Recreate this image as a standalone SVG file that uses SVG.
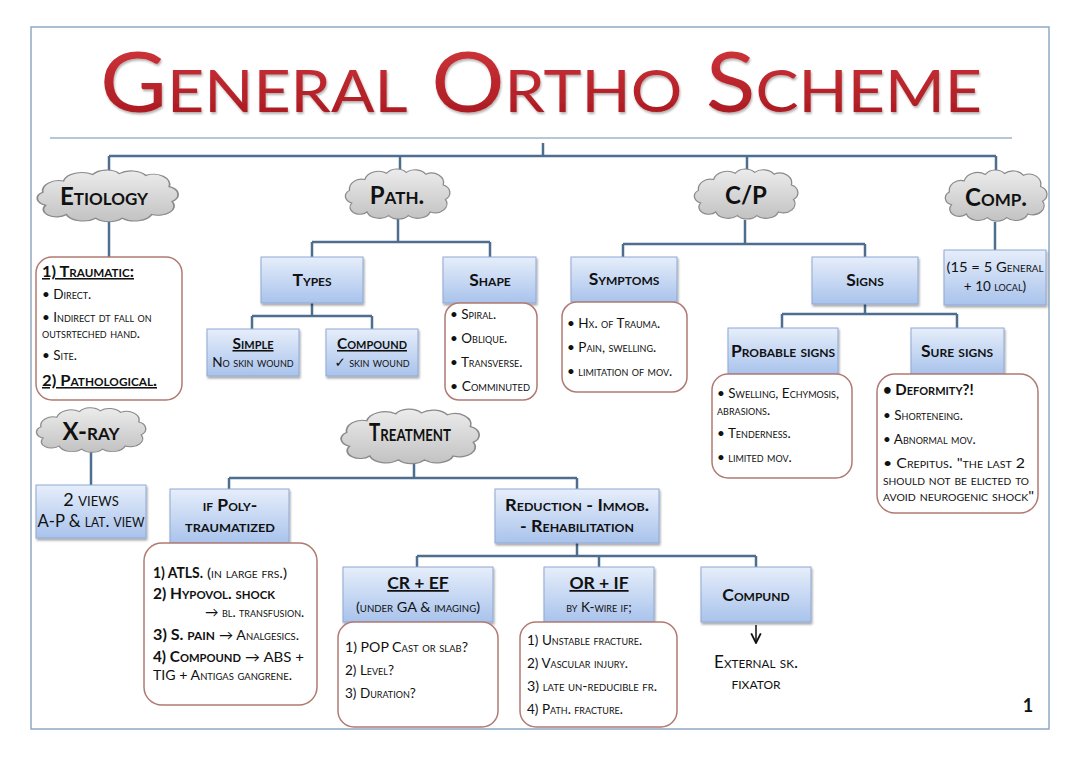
<svg xmlns="http://www.w3.org/2000/svg" width="1080" height="758" viewBox="0 0 1080 758">
<defs>
<linearGradient id="bg" x1="0" y1="0" x2="0" y2="1"><stop offset="0" stop-color="#e6eefa"/><stop offset="1" stop-color="#a9c3ec"/></linearGradient>
<linearGradient id="cg" x1="0" y1="0" x2="0" y2="1"><stop offset="0" stop-color="#ececec"/><stop offset="1" stop-color="#c2c2c2"/></linearGradient>
<linearGradient id="rg" x1="0" y1="0" x2="0" y2="1"><stop offset="0" stop-color="#d63a3f"/><stop offset="1" stop-color="#a3161d"/></linearGradient>
<filter id="sh" x="-10%" y="-10%" width="130%" height="140%"><feDropShadow dx="1" dy="2" stdDeviation="1.3" flood-color="#000" flood-opacity="0.35"/></filter>
<filter id="ts" x="-5%" y="-5%" width="110%" height="120%"><feDropShadow dx="1" dy="2" stdDeviation="1" flood-color="#000" flood-opacity="0.3"/></filter>
<path id="cloud" d="M 8 40 A 9 8 0 0 1 6 26 A 11 11 0 0 1 20 14 A 13 12 0 0 1 40 7 A 11 10 0 0 1 58 6 A 12 11 0 0 1 76 8 A 11 11 0 0 1 92 20 A 9 9 0 0 1 94 36 A 11 10 0 0 1 80 50 A 12 10 0 0 1 60 54 A 11 9 0 0 1 42 54 A 12 10 0 0 1 22 50 A 9 8 0 0 1 8 40 Z"/>
<marker id="ar" viewBox="0 0 10 10" refX="9" refY="5" markerWidth="8" markerHeight="8" orient="auto"><path d="M1 1 L9 5 L1 9" fill="none" stroke="#111" stroke-width="1.5"/></marker>
</defs>
<style>
.ln{fill:none;stroke:#4d6e8f;stroke-width:2.5}
.bx{fill:url(#bg);stroke:#8fa8d4;stroke-width:1;filter:url(#sh)}
.lb{fill:#fff;stroke:#b07a72;stroke-width:1.5}
.cl{fill:url(#cg);stroke:#8a8a8a;stroke-width:1.2;vector-effect:non-scaling-stroke}
text{font-family:Lato,"Open Sans","DejaVu Sans",sans-serif;font-variant:small-caps;fill:#111}
.h{font-weight:bold;font-size:17.5px;text-anchor:middle}
.c{font-weight:bold;font-size:24px;text-anchor:middle}
.t{font-size:13.5px}
.m{text-anchor:middle}
.u{text-decoration:underline}
.b{font-weight:bold}
</style>
<rect x="0" y="0" width="1080" height="758" fill="#fff"/>
<rect x="31" y="27" width="1018" height="702" fill="none" stroke="#8fa9c3" stroke-width="1.5"/>
<g id="title">
<text x="100" y="112" font-size="84" textLength="882" lengthAdjust="spacingAndGlyphs" style="fill:url(#rg);filter:url(#ts)">General Ortho Scheme</text>
<line x1="50" y1="138" x2="1012" y2="138" stroke="#6f8fae" stroke-width="1"/>
</g>
<g id="connectors">
<path class="ln" d="M543 143 V156 M109 156 H996 M109 156 V175 M400 156 V172 M747 156 V172 M996 156 V176"/>
<path class="ln" d="M109 220 V257"/>
<path class="ln" d="M398 218 V242 M312 242 H490 M312 242 V257 M490 242 V257"/>
<path class="ln" d="M312 303 V316 M252 316 H372 M252 316 V329 M372 316 V329"/>
<path class="ln" d="M745 220 V244 M623 244 H865 M623 244 V257 M865 244 V257"/>
<path class="ln" d="M865 304 V314 M782 314 H957 M782 314 V328 M957 314 V328"/>
<path class="ln" d="M995 222 V250"/>
<path class="ln" d="M91 452 V485"/>
<path class="ln" d="M414 464 V478 M229 478 H577 M229 478 V489 M577 478 V489"/>
<path class="ln" d="M577 543 V556 M417 556 H756 M417 556 V567 M599 556 V567 M756 556 V567"/>
<path d="M756 625 V643" fill="none" stroke="#111" stroke-width="1.5" marker-end="url(#ar)"/>
</g>
<g id="etiology">
<use href="#cloud" class="cl" transform="translate(34,168) scale(1.47,0.93)"/>
<text class="c" x="104" y="205">Etiology</text>
</g>
<g id="etiology-list">
<rect class="lb" x="36" y="257" width="146" height="143" rx="16"/>
<text class="b u" x="42" y="277" font-size="15.5" textLength="92" lengthAdjust="spacingAndGlyphs">1) Traumatic:</text>
<text class="t" x="42" y="299">• Direct.</text>
<text class="t" x="42" y="322">• Indirect dt fall on</text>
<text class="t" x="42" y="338">outsrteched hand.</text>
<text class="t" x="42" y="360">• Site.</text>
<text class="b u" x="42" y="386" font-size="15.5" textLength="115" lengthAdjust="spacingAndGlyphs">2) Pathological.</text>
</g>
<g id="path">
<use href="#cloud" class="cl" transform="translate(343,167) scale(1.09,0.9)"/>
<text class="c" x="397" y="204">Path.</text>
</g>
<g id="types">
<rect class="bx" x="261" y="257" width="102" height="46"/>
<text class="h" x="312" y="286" font-size="17">Types</text>
</g>
<g id="shape">
<rect class="bx" x="443" y="257" width="93" height="46"/>
<text class="h" x="490" y="286">Shape</text>
</g>
<g id="simple">
<rect class="bx" x="207" y="329" width="92" height="47"/>
<text class="b u m" x="253" y="349" font-size="15.5">Simple</text>
<text class="t m" x="253" y="367">No skin wound</text>
</g>
<g id="compound">
<rect class="bx" x="326" y="329" width="92" height="47"/>
<text class="b u m" x="372" y="349" font-size="15.5" textLength="70" lengthAdjust="spacingAndGlyphs">Compound</text>
<text class="t m" x="372" y="367">✓ skin wound</text>
</g>
<g id="shape-list">
<rect class="lb" x="445" y="303" width="92" height="97" rx="14"/>
<text class="t" x="450" y="319">• Spiral.</text>
<text class="t" x="450" y="343">• Oblique.</text>
<text class="t" x="450" y="367">• Transverse.</text>
<text class="t" x="450" y="391" textLength="80" lengthAdjust="spacingAndGlyphs">• Comminuted</text>
</g>
<g id="cp">
<use href="#cloud" class="cl" transform="translate(692,167) scale(1.08,0.9)"/>
<text class="c" x="746" y="204">C/P</text>
</g>
<g id="symptoms">
<rect class="bx" x="571" y="257" width="106" height="45"/>
<text class="h" x="624" y="285">Symptoms</text>
</g>
<g id="symptoms-list">
<rect class="lb" x="562" y="302" width="125" height="90" rx="15"/>
<text class="t" x="567" y="328">• Hx. of Trauma.</text>
<text class="t" x="567" y="352">• Pain, swelling.</text>
<text class="t" x="567" y="376">• limitation of mov.</text>
</g>
<g id="signs">
<rect class="bx" x="812" y="257" width="106" height="47"/>
<text class="h" x="865" y="286" font-size="18.5">Signs</text>
</g>
<g id="probable">
<rect class="bx" x="728" y="328" width="110" height="46"/>
<text class="h" x="783" y="357" font-size="15.5">Probable signs</text>
</g>
<g id="probable-list">
<rect class="lb" x="712" y="374" width="140" height="104" rx="16"/>
<text class="t" x="717" y="398">• Swelling, Echymosis,</text>
<text class="t" x="717" y="415">abrasions.</text>
<text class="t" x="717" y="438">• Tenderness.</text>
<text class="t" x="717" y="462">• limited mov.</text>
</g>
<g id="sure">
<rect class="bx" x="911" y="328" width="93" height="46"/>
<text class="h" x="957" y="357" font-size="15.5">Sure signs</text>
</g>
<g id="sure-list">
<rect class="lb" x="877" y="374" width="161" height="139" rx="18"/>
<text class="b" x="883" y="395" font-size="15">• Deformity?!</text>
<text class="t" x="883" y="420" font-size="14">• Shorteneing.</text>
<text class="t" x="883" y="444" font-size="14">• Abnormal mov.</text>
<text class="t" x="883" y="468" font-size="14" textLength="142" lengthAdjust="spacingAndGlyphs">• Crepitus. "the last 2</text>
<text class="t" x="883" y="485" font-size="14" textLength="146" lengthAdjust="spacingAndGlyphs">should not be elicted to</text>
<text class="t" x="883" y="501" font-size="14" textLength="151" lengthAdjust="spacingAndGlyphs">avoid neurogenic shock"</text>
</g>
<g id="comp">
<use href="#cloud" class="cl" transform="translate(943,168) scale(1.06,0.92)"/>
<text class="c" x="996" y="206">Comp.</text>
</g>
<g id="comp-box">
<rect class="bx" x="944" y="250" width="102" height="55"/>
<text class="t m" x="995" y="272" font-size="14.5" textLength="97" lengthAdjust="spacingAndGlyphs">(15 = 5 General</text>
<text class="t m" x="995" y="291" font-size="14.5">+ 10 local)</text>
</g>
<g id="xray">
<use href="#cloud" class="cl" transform="translate(34,406) scale(1.14,0.8)"/>
<text class="c" x="91" y="440" font-size="22">X-ray</text>
</g>
<g id="views">
<rect class="bx" x="36" y="485" width="110" height="53"/>
<text class="m" x="91" y="506" font-size="18">2 views</text>
<text class="m" x="91" y="527" font-size="18" textLength="107" lengthAdjust="spacingAndGlyphs">A-P &amp; lat. view</text>
</g>
<g id="treatment">
<use href="#cloud" class="cl" transform="translate(338,407) scale(1.44,0.98)"/>
<text class="c" x="410" y="441" font-size="16.5" textLength="82" lengthAdjust="spacingAndGlyphs">Treatment</text>
</g>
<g id="poly">
<rect class="bx" x="170" y="489" width="119" height="54"/>
<text class="h" x="230" y="511" font-size="16">if Poly-</text>
<text class="h" x="230" y="532" font-size="16" textLength="90" lengthAdjust="spacingAndGlyphs">traumatized</text>
</g>
<g id="poly-list">
<rect class="lb" x="144" y="543" width="173" height="162" rx="18"/>
<text class="b" x="153" y="578" font-size="15" textLength="50" lengthAdjust="spacingAndGlyphs">1) ATLS.</text>
<text class="t" x="207" y="578" font-size="14.5" textLength="80" lengthAdjust="spacingAndGlyphs">(in large frs.)</text>
<text class="b" x="153" y="599" font-size="15" textLength="122" lengthAdjust="spacingAndGlyphs">2) Hypovol. shock</text>
<text class="t" x="205" y="617" font-size="14">→ bl. transfusion.</text>
<text class="b" x="153" y="640" font-size="15" textLength="62" lengthAdjust="spacingAndGlyphs">3) S. pain</text>
<text class="t" x="219" y="640" font-size="14.5" textLength="80" lengthAdjust="spacingAndGlyphs">→ Analgesics.</text>
<text class="b" x="153" y="662" font-size="15" textLength="88" lengthAdjust="spacingAndGlyphs">4) Compound</text>
<text class="t" x="245" y="662" font-size="14.5" textLength="59" lengthAdjust="spacingAndGlyphs">→ ABS +</text>
<text class="t" x="153" y="680" font-size="14.5" textLength="139" lengthAdjust="spacingAndGlyphs">TIG + Antigas gangrene.</text>
</g>
<g id="reduction">
<rect class="bx" x="495" y="489" width="164" height="54"/>
<text class="h" x="577" y="511" font-size="16.5" textLength="144" lengthAdjust="spacingAndGlyphs">Reduction - Immob.</text>
<text class="h" x="577" y="532" font-size="16.5" textLength="114" lengthAdjust="spacingAndGlyphs">- Rehabilitation</text>
</g>
<g id="cref">
<rect class="bx" x="343" y="567" width="150" height="55"/>
<text class="h u" x="418" y="589">CR + EF</text>
<text class="t m" x="418" y="612" font-size="13.5" textLength="124" lengthAdjust="spacingAndGlyphs">(under GA &amp; imaging)</text>
</g>
<g id="cref-list">
<rect class="lb" x="338" y="622" width="160" height="105" rx="16"/>
<text class="t" x="345" y="652" font-size="14" textLength="123" lengthAdjust="spacingAndGlyphs">1) POP Cast or slab?</text>
<text class="t" x="345" y="675" font-size="14">2) Level?</text>
<text class="t" x="345" y="698" font-size="14">3) Duration?</text>
</g>
<g id="orif">
<rect class="bx" x="544" y="567" width="110" height="55"/>
<text class="h u" x="599" y="589">OR + IF</text>
<text class="t m" x="599" y="612">by K-wire if;</text>
</g>
<g id="orif-list">
<rect class="lb" x="520" y="622" width="157" height="105" rx="16"/>
<text class="t" x="527" y="645" font-size="14">1) Unstable fracture.</text>
<text class="t" x="527" y="668" font-size="14">2) Vascular injury.</text>
<text class="t" x="527" y="691" font-size="14" textLength="130" lengthAdjust="spacingAndGlyphs">3) late un-reducible fr.</text>
<text class="t" x="527" y="714" font-size="14">4) Path. fracture.</text>
</g>
<g id="compund">
<rect class="bx" x="701" y="567" width="110" height="55"/>
<text class="h" x="756" y="601" font-size="19">Compund</text>
</g>
<g id="external">
<text class="m" x="756" y="668" font-size="17.5" textLength="84" lengthAdjust="spacingAndGlyphs">External sk.</text>
<text class="m" x="756" y="689" font-size="17.5">fixator</text>
</g>
<text x="1028" y="712" font-size="18" font-weight="bold" text-anchor="middle">1</text>
</svg>
